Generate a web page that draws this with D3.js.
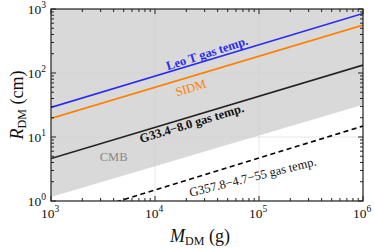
<!DOCTYPE html>
<html><head><meta charset="utf-8">
<script src="https://cdn.jsdelivr.net/npm/d3@7"></script>
<style>body{margin:0;background:#fff;} text{font-family:"Liberation Serif","DejaVu Serif",serif;}</style>
</head><body><svg id="c" width="374" height="249"></svg>
<script>
// masses (g) at which each line is sampled
const masses = [1e3, 1e6];
const leoT = [29, 850];
const sidm = [19.5, 560];
const g33 = [4.6, 133];
const cmb = [1.15, 32];
const g357 = [0.47, 14.8];
const xTicks = [1e3, 1e4, 1e5, 1e6];
const yTicks = [1e0, 1e1, 1e2, 1e3];

const svg = d3.select("#c");
const L = 51, R = 363, T = 9, B = 201;
const x = d3.scaleLog().domain([1e3, 1e6]).range([L, R]);
const y = d3.scaleLog().domain([1, 1e3]).range([B, T]);

svg.append("defs").append("clipPath").attr("id", "clip")
  .append("rect").attr("x", L).attr("y", T).attr("width", R - L).attr("height", B - T);

const g = svg.append("g").attr("clip-path", "url(#clip)");
const area = d3.area().x((d, i) => x(masses[i])).y0(T).y1((d) => y(d));
g.append("path").datum(cmb).attr("d", area).attr("fill", "#d9d9d9");

xTicks.forEach(t => g.append("line").attr("x1", x(t)).attr("x2", x(t)).attr("y1", T).attr("y2", B).attr("stroke", "#cfcfcf").attr("stroke-width", 0.5));
yTicks.forEach(t => g.append("line").attr("y1", y(t)).attr("y2", y(t)).attr("x1", L).attr("x2", R).attr("stroke", "#cfcfcf").attr("stroke-width", 0.5));

const line = d3.line().x((d, i) => x(masses[i])).y(d => y(d));
const series = [
  {v: leoT, c: "#2b2bee", dash: null},
  {v: sidm, c: "#ff8000", dash: null},
  {v: g33, c: "#222", dash: null},
  {v: g357, c: "#000", dash: "5,3.5"}
];
series.forEach(s => g.append("path").datum(s.v).attr("d", line).attr("fill", "none")
  .attr("stroke", s.c).attr("stroke-width", 1.6).attr("stroke-dasharray", s.dash));

function minorTicks(dom) {
  const out = [];
  for (let e = Math.log10(dom[0]); e < Math.log10(dom[1]); e++)
    for (let k = 1; k <= 9; k++) out.push(k * Math.pow(10, e));
  out.push(dom[1]);
  return out;
}
const xm = minorTicks([1e3, 1e6]), ym = minorTicks([1, 1e3]);
const ax = svg.append("g");
const isMajor = v => Math.abs(Math.log10(v) - Math.round(Math.log10(v))) < 1e-9;
xm.forEach(v => {
  const len = isMajor(v) ? 5 : 3;
  ax.append("line").attr("x1", x(v)).attr("x2", x(v)).attr("y1", B).attr("y2", B - len).attr("stroke", "#222");
  ax.append("line").attr("x1", x(v)).attr("x2", x(v)).attr("y1", T).attr("y2", T + len).attr("stroke", "#222");
});
ym.forEach(v => {
  const len = isMajor(v) ? 5 : 3;
  ax.append("line").attr("y1", y(v)).attr("y2", y(v)).attr("x1", L).attr("x2", L + len).attr("stroke", "#222");
  ax.append("line").attr("y1", y(v)).attr("y2", y(v)).attr("x1", R).attr("x2", R - len).attr("stroke", "#222");
});
ax.append("rect").attr("x", L).attr("y", T).attr("width", R - L).attr("height", B - T)
  .attr("fill", "none").attr("stroke", "#222").attr("stroke-width", 1.2);

xTicks.forEach(t => {
  const tx = svg.append("text").attr("x", x(t) - 1).attr("y", 218).attr("text-anchor", "middle").attr("font-size", 13.5).attr("fill", "#111");
  tx.append("tspan").text("10");
  tx.append("tspan").attr("font-size", 9.5).attr("dy", -6).text(Math.round(Math.log10(t)));
});
yTicks.forEach(t => {
  const tx = svg.append("text").attr("x", 46).attr("y", y(t) + 5).attr("text-anchor", "end").attr("font-size", 13.5).attr("fill", "#111");
  tx.append("tspan").text("10");
  tx.append("tspan").attr("font-size", 9.5).attr("dy", -6).text(Math.round(Math.log10(t)));
});

const xt = svg.append("text").attr("x", 200).attr("y", 242).attr("text-anchor", "middle").attr("font-size", 18).attr("fill", "#111");
xt.append("tspan").attr("font-style", "italic").text("M");
xt.append("tspan").attr("font-size", 12).attr("dy", 3).text("DM");
xt.append("tspan").attr("dy", -3).text(" (g)");
const yt = svg.append("text").attr("transform", "translate(23,105) rotate(-90)").attr("text-anchor", "middle").attr("font-size", 18).attr("fill", "#111");
yt.append("tspan").attr("font-style", "italic").text("R");
yt.append("tspan").attr("font-size", 12).attr("dy", 3).text("DM");
yt.append("tspan").attr("dy", -3).text(" (cm)");

const ang = -Math.atan(0.49 * (B - T) / 3 / ((R - L) / 3)) * 180 / Math.PI;
const labels = [
  {t: "Leo T gas temp.", mx: 3.16e4, ry: 205, c: "#2b2bee", w: "bold", s: 12.5, r: ang - 1},
  {t: "SIDM", mx: 2.2e4, ry: 59, c: "#ff8000", w: "normal", s: 12.5, r: ang},
  {t: "G33.4\u22128.0 gas temp.", mx: 2.25e4, ry: 16.5, c: "#111", w: "bold", s: 12.5, r: ang},
  {t: "CMB", mx: 4.0e3, ry: 4.9, c: "#888", w: "normal", s: 12.5, r: 0},
  {t: "G357.8\u22124.7\u221255 gas temp.", mx: 8.7e4, ry: 2.4, c: "#111", w: "normal", s: 12.5, r: -14}
];
labels.forEach(l => svg.append("text")
  .attr("transform", `translate(${x(l.mx)},${y(l.ry)}) rotate(${l.r})`)
  .attr("text-anchor", "middle").attr("dy", "0.35em").attr("font-size", l.s)
  .attr("font-weight", l.w).attr("fill", l.c).text(l.t));
</script></body></html>
